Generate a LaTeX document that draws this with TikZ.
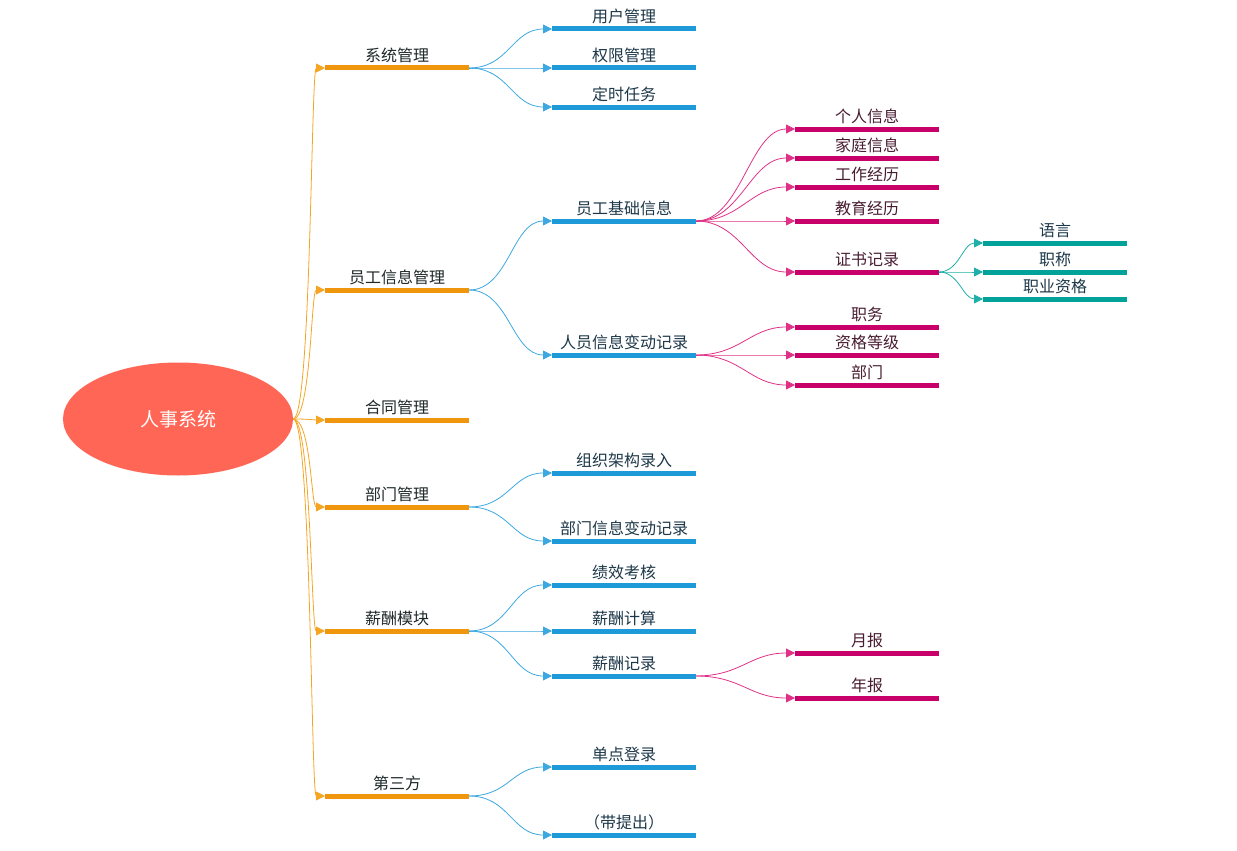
\documentclass[tikz,border=0pt]{standalone}
\usepackage{fontspec}
\setmainfont{Noto Sans CJK SC}
\usetikzlibrary{shapes.geometric,arrows.meta}
\definecolor{rootred}{RGB}{255,102,85}
\definecolor{orangebar}{RGB}{240,150,12}
\definecolor{orangeline}{RGB}{245,165,35}
\definecolor{bluebar}{RGB}{30,154,216}
\definecolor{blueline}{RGB}{60,168,224}
\definecolor{pinkbar}{RGB}{200,0,106}
\definecolor{pinkline}{RGB}{222,50,135}
\definecolor{tealbar}{RGB}{0,162,154}
\definecolor{tealline}{RGB}{30,175,168}
\definecolor{darktext}{RGB}{30,40,40}
\definecolor{navytext}{RGB}{28,55,72}
\definecolor{maroontext}{RGB}{72,28,48}
\tikzset{
  bar/.style={fill=#1, minimum width=144pt, minimum height=5pt, inner sep=0pt, outer sep=0pt},
  lbl/.style={anchor=base, inner sep=0pt, text=#1, font=\fontsize{16}{19}\selectfont},
  link/.style={draw=#1, line width=0.8pt, -{Triangle[length=9pt,width=9pt]}},
}
\begin{document}
\begin{tikzpicture}[x=1pt,y=-1pt]
\useasboundingbox (0,0) rectangle (1237,851);
\node[ellipse, fill=rootred, minimum width=230pt, minimum height=113pt, inner sep=0pt,
      text=white, font=\fontsize{19}{22}\selectfont] (root) at (178,419) {人事系统};
% first level
\foreach \n/\y/\t in {sys/68/系统管理, staff/290/员工信息管理, contract/420/合同管理,
                      dept/507/部门管理, pay/631/薪酬模块, third/796/第三方}{
  \node[bar=orangebar] (\n) at (397,\y) {};
  \node[lbl=darktext] (\n-t) at ([yshift=4pt]\n.north) {\t};
  \draw[link=orangeline] (root.east) to[out=0,in=180,out distance=18pt,in distance=14pt] (\n.west);
}
% second level
\foreach \p/\n/\y/\t in {sys/user/29/用户管理, sys/perm/68/权限管理, sys/task/107/定时任务,
                         staff/base/221/员工基础信息, staff/change/355/人员信息变动记录,
                         dept/org/473/组织架构录入, dept/deptchg/541/部门信息变动记录,
                         pay/perf/585/绩效考核, pay/salcalc/631/薪酬计算, pay/rec/676/薪酬记录,
                         third/sso/767/单点登录, third/quit/835/（带提出）}{
  \node[bar=bluebar] (\n) at (624,\y) {};
  \node[lbl=navytext] (\n-t) at ([yshift=4pt]\n.north) {\t};
  \draw[link=blueline] (\p.east) to[out=0,in=180,distance=40pt] (\n.west);
}
% third level
\foreach \p/\n/\y/\t in {base/person/129/个人信息, base/family/158/家庭信息, base/work/187/工作经历,
                         base/edu/221/教育经历, base/cert/272/证书记录,
                         change/duty/327/职务, change/grade/355/资格等级, change/unit/385/部门,
                         rec/month/653/月报, rec/year/698/年报}{
  \node[bar=pinkbar] (\n) at (867,\y) {};
  \node[lbl=maroontext] (\n-t) at ([yshift=4pt]\n.north) {\t};
  \draw[link=pinkline] (\p.east) to[out=0,in=180,distance=45pt] (\n.west);
}
% fourth level
\foreach \n/\y/\t in {lang/243/语言, title/272/职称, qual/299/职业资格}{
  \node[bar=tealbar] (\n) at (1055,\y) {};
  \node[lbl=navytext] (\n-t) at ([yshift=4pt]\n.north) {\t};
  \draw[link=tealline] (cert.east) to[out=0,in=180,distance=20pt] (\n.west);
}
\end{tikzpicture}
\end{document}
